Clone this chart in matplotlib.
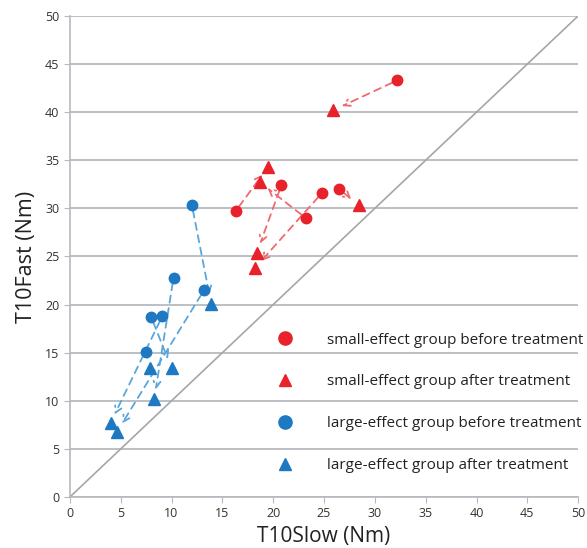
import numpy as np
import matplotlib.pyplot as plt
from matplotlib.lines import Line2D

# small-effect group: before -> after (T10Slow, T10Fast)
small_before_x = [32.2, 16.3, 20.8, 23.2, 24.8, 26.5]
small_before_y = [43.3, 29.7, 32.4, 29.0, 31.6, 32.0]
small_after_x = [25.9, 19.5, 18.4, 18.7, 18.2, 28.4]
small_after_y = [40.2, 34.3, 25.4, 32.7, 23.8, 30.3]

# large-effect group: before -> after
large_before_x = [12.0, 10.2, 9.1, 8.0, 7.5, 13.2]
large_before_y = [30.35, 22.8, 18.8, 18.7, 15.1, 21.5]
large_after_x = [13.9, 8.3, 4.0, 10.0, 7.9, 4.65]
large_after_y = [20.1, 10.2, 7.7, 13.4, 13.4, 6.8]

labels = ['small-effect group before treatment', 'small-effect group after treatment',
          'large-effect group before treatment', 'large-effect group after treatment']

red = '#E8212B'
blue = '#1E79C2'
red_arrow = '#EE6A70'
blue_arrow = '#5AA6DB'
grid_col = '#A9ADB3'

plt.rcParams['font.family'] = ['Open Sans', 'DejaVu Sans']

fig = plt.figure(figsize=(5.87, 5.48), dpi=100)
ax = fig.add_axes([0.119, 0.093, 0.866, 0.878])

ax.set_xlim(0, 50)
ax.set_ylim(0, 50)
ax.set_xticks(np.arange(0, 51, 5))
ax.set_yticks(np.arange(0, 51, 5))
ax.yaxis.grid(True, color=grid_col, linewidth=1.1)
ax.set_axisbelow(True)
for s in ['top', 'right']:
    ax.spines[s].set_visible(False)
for s in ['left', 'bottom']:
    ax.spines[s].set_color('#B5B9BE')
    ax.spines[s].set_linewidth(1.2)
ax.tick_params(colors='#B5B9BE', labelcolor='#333333', labelsize=9, length=4)

# identity line
ax.plot([0, 50], [0, 50], color='#A6A6A6', linewidth=1.2, zorder=1)

def arrows(bx, by, axx, ayy, col):
    for x0, y0, x1, y1 in zip(bx, by, axx, ayy):
        ax.annotate('', xy=(x1, y1), xytext=(x0, y0),
                    arrowprops=dict(arrowstyle='->,head_length=0.45,head_width=0.25',
                                    linestyle=(0, (4, 3)), color=col,
                                    linewidth=1.3, shrinkA=4, shrinkB=7), zorder=2)

arrows(small_before_x, small_before_y, small_after_x, small_after_y, red_arrow)
arrows(large_before_x, large_before_y, large_after_x, large_after_y, blue_arrow)

ax.plot(small_before_x, small_before_y, 'o', color=red, markersize=7.5, linestyle='none', zorder=3)
ax.plot(small_after_x, small_after_y, '^', color=red, markersize=8, linestyle='none', zorder=3)
ax.plot(large_before_x, large_before_y, 'o', color=blue, markersize=7.5, linestyle='none', zorder=3)
ax.plot(large_after_x, large_after_y, '^', color=blue, markersize=8, linestyle='none', zorder=3)

handles = [Line2D([], [], marker='o', color=red, markersize=9.5, linestyle='none'),
           Line2D([], [], marker='^', color=red, markersize=8.5, linestyle='none'),
           Line2D([], [], marker='o', color=blue, markersize=9.5, linestyle='none'),
           Line2D([], [], marker='^', color=blue, markersize=8.5, linestyle='none')]
ax.legend(handles, labels, loc='upper left', bbox_to_anchor=(0.382, 0.37), frameon=False,
          fontsize=11, labelspacing=1.75, handlelength=1, handletextpad=2.2,
          labelcolor='#222222')

ax.set_xlabel('T10Slow (Nm)', fontsize=15, color='#222222', labelpad=4)
ax.set_ylabel('T10Fast (Nm)', fontsize=15.5, color='#222222', labelpad=6)

fig.savefig('out.png', dpi=100)
